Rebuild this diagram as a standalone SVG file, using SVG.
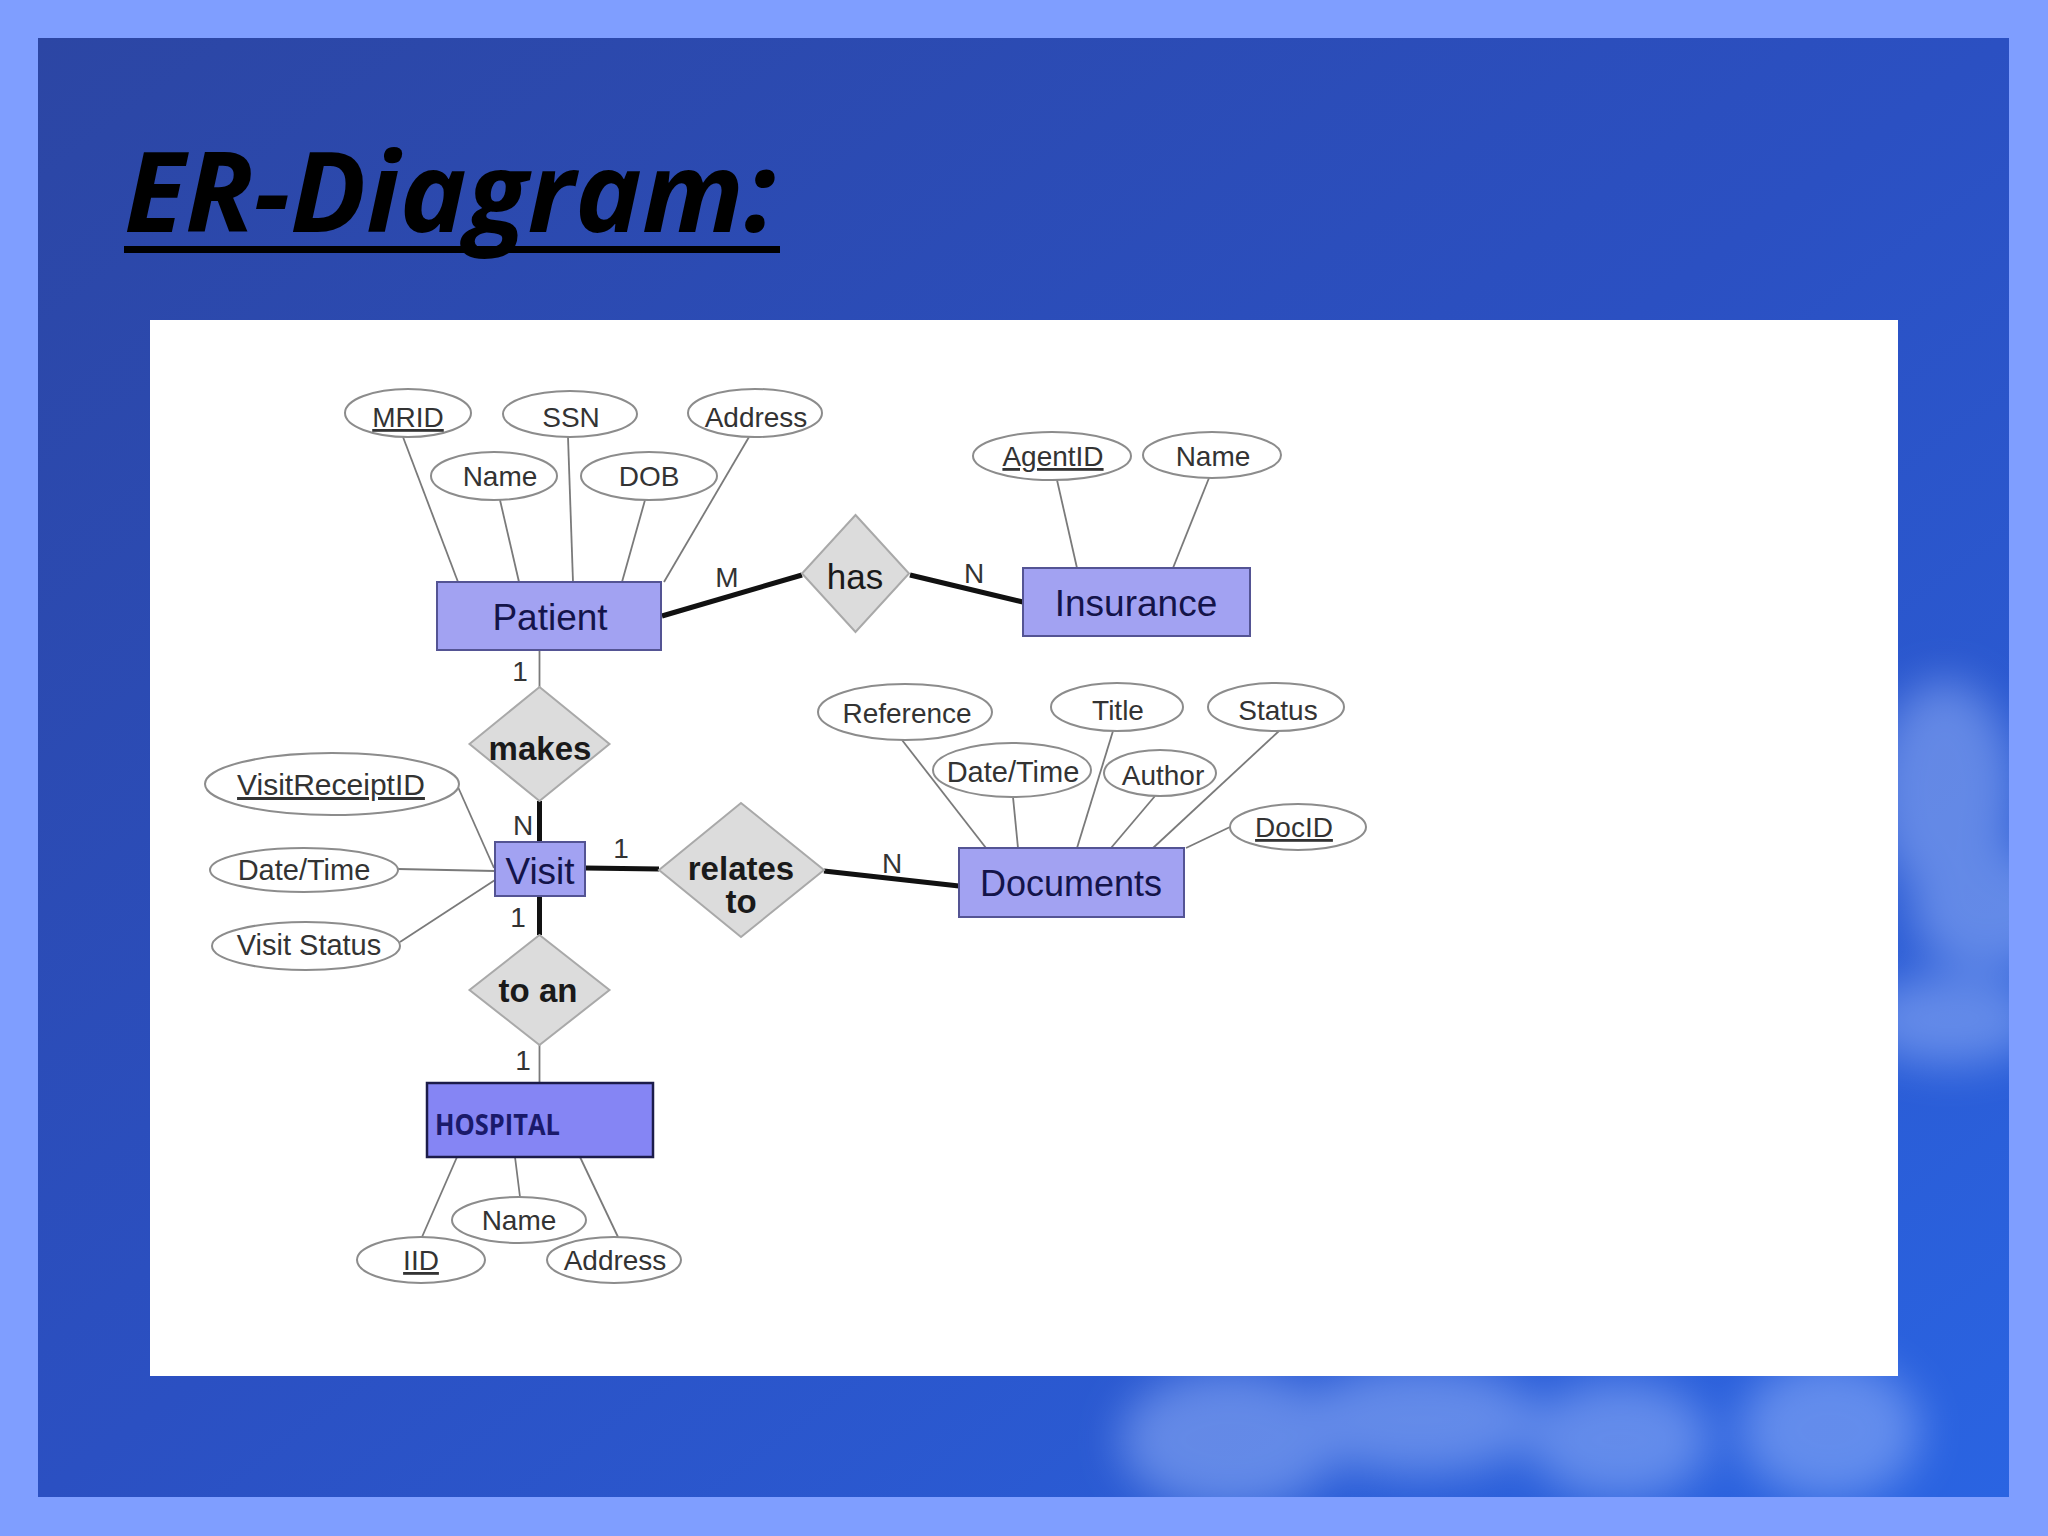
<svg xmlns="http://www.w3.org/2000/svg" width="2048" height="1536" viewBox="0 0 2048 1536">
<defs>
<linearGradient id="bg" x1="0" y1="0" x2="1" y2="1">
<stop offset="0" stop-color="#2c46a4"/>
<stop offset="0.5" stop-color="#2b50c2"/>
<stop offset="1" stop-color="#2a64e2"/>
</linearGradient>
<filter id="blur" x="-50%" y="-50%" width="200%" height="200%"><feGaussianBlur stdDeviation="22"/></filter>
<clipPath id="inner"><rect x="38" y="38" width="1971" height="1459"/></clipPath>
<style>
.ent{fill:#a2a2f2;stroke:#545494;stroke-width:2}
.rel{fill:#dcdcdc;stroke:#a9a9a9;stroke-width:2}
.att{fill:#ffffff;stroke:#8c8c8c;stroke-width:2}
.thin{stroke:#7a7a7a;stroke-width:1.8;fill:none}
.thick{stroke:#111111;stroke-width:5;fill:none}
.at{font-family:"Liberation Sans",Arial,sans-serif;font-size:28px;fill:#333333;text-anchor:middle}
.key{text-decoration:underline}
.et{font-family:"Liberation Sans",Arial,sans-serif;font-size:37px;fill:#14144a;text-anchor:middle}
.rt{font-family:"Liberation Sans",Arial,sans-serif;font-size:33px;font-weight:bold;fill:#1a1a1a;text-anchor:middle}
.rtn{font-family:"Liberation Sans",Arial,sans-serif;font-size:35px;font-weight:normal;fill:#1a1a1a;text-anchor:middle}
.card{font-family:"Liberation Sans",Arial,sans-serif;font-size:28px;fill:#333333;text-anchor:middle}
</style>
</defs>
<g id="background">
<rect x="0" y="0" width="2048" height="1536" fill="#7f9eff"/>
<rect x="38" y="38" width="1971" height="1459" fill="url(#bg)"/>
<g clip-path="url(#inner)">
<g filter="url(#blur)" fill="#a9c2ff" opacity="0.45">
<ellipse cx="1945" cy="790" rx="70" ry="110"/>
<ellipse cx="1990" cy="910" rx="80" ry="60"/>
<ellipse cx="1950" cy="1020" rx="90" ry="45"/>
<ellipse cx="1230" cy="1440" rx="110" ry="70"/>
<ellipse cx="1420" cy="1420" rx="120" ry="55"/>
<ellipse cx="1620" cy="1440" rx="90" ry="60"/>
<ellipse cx="1830" cy="1430" rx="90" ry="70"/>
</g>
</g>
<rect x="150" y="320" width="1748" height="1056" fill="#ffffff"/>
</g>
<g id="title">
<text x="124" y="232" font-family="'Open Sans','DejaVu Sans',sans-serif" font-size="112" font-weight="bold" font-style="italic" fill="#000000" textLength="652" lengthAdjust="spacingAndGlyphs">ER-Diagram:</text>
<rect x="124" y="246" width="656" height="7" fill="#000000"/>
</g>
<g id="connectors">
<line class="thin" x1="403" y1="437" x2="458" y2="582"/>
<line class="thin" x1="500" y1="500" x2="519" y2="582"/>
<line class="thin" x1="568" y1="437" x2="573" y2="582"/>
<line class="thin" x1="645" y1="500" x2="622" y2="582"/>
<line class="thin" x1="749" y1="437" x2="664" y2="582"/>
<line class="thin" x1="1057" y1="480" x2="1077" y2="568"/>
<line class="thin" x1="1209" y1="478" x2="1173" y2="568"/>
<line class="thin" x1="458" y1="787" x2="494" y2="868"/>
<line class="thin" x1="398" y1="869" x2="495" y2="871"/>
<line class="thin" x1="400" y1="942" x2="495" y2="880"/>
<line class="thin" x1="902" y1="740" x2="986" y2="848"/>
<line class="thin" x1="1013" y1="797" x2="1018" y2="848"/>
<line class="thin" x1="1113" y1="731" x2="1077" y2="848"/>
<line class="thin" x1="1155" y1="796" x2="1111" y2="848"/>
<line class="thin" x1="1279" y1="731" x2="1153" y2="848"/>
<line class="thin" x1="1230" y1="827" x2="1186" y2="848"/>
<line class="thin" x1="457" y1="1157" x2="422" y2="1237"/>
<line class="thin" x1="515" y1="1157" x2="520" y2="1197"/>
<line class="thin" x1="580" y1="1157" x2="618" y2="1237"/>
<line class="thin" x1="539.5" y1="650" x2="539.5" y2="687"/>
<line class="thin" x1="539.5" y1="1045" x2="539.5" y2="1083"/>
<line class="thick" x1="662" y1="616" x2="802" y2="575"/>
<line class="thick" x1="910" y1="575" x2="1023" y2="602"/>
<line class="thick" x1="539.5" y1="801" x2="539.5" y2="842"/>
<line class="thick" x1="539.5" y1="896" x2="539.5" y2="935"/>
<line class="thick" x1="585" y1="868" x2="659" y2="869"/>
<line class="thick" x1="824" y1="871" x2="959" y2="886"/>
<text class="card" x="727" y="587">M</text>
<text class="card" x="974" y="583">N</text>
<text class="card" x="520" y="681">1</text>
<text class="card" x="523" y="835">N</text>
<text class="card" x="621" y="858">1</text>
<text class="card" x="518" y="927">1</text>
<text class="card" x="892" y="873">N</text>
<text class="card" x="523" y="1070">1</text>
</g>
<g id="patient">
<rect class="ent" x="437" y="582" width="224" height="68"/>
<text class="et" x="550" y="630">Patient</text>
</g>
<g id="patient-mrid"><ellipse class="att" cx="408" cy="413" rx="63" ry="24"/><text class="at key" x="408" y="427">MRID</text></g>
<g id="patient-ssn"><ellipse class="att" cx="570" cy="414" rx="67" ry="23"/><text class="at" x="571" y="427">SSN</text></g>
<g id="patient-address"><ellipse class="att" cx="755" cy="413" rx="67" ry="24"/><text class="at" x="756" y="427">Address</text></g>
<g id="patient-name"><ellipse class="att" cx="494" cy="476" rx="63" ry="24"/><text class="at" x="500" y="486">Name</text></g>
<g id="patient-dob"><ellipse class="att" cx="649" cy="476" rx="68" ry="24"/><text class="at" x="649" y="486">DOB</text></g>
<g id="has">
<polygon class="rel" points="855.5,515 909,573.5 855.5,632 802,573.5"/>
<text class="rtn" x="855" y="589">has</text>
</g>
<g id="insurance">
<rect class="ent" x="1023" y="568" width="227" height="68"/>
<text class="et" x="1136" y="616">Insurance</text>
</g>
<g id="insurance-agentid"><ellipse class="att" cx="1052" cy="456" rx="79" ry="24"/><text class="at key" x="1053" y="466">AgentID</text></g>
<g id="insurance-name"><ellipse class="att" cx="1212" cy="455" rx="69" ry="23"/><text class="at" x="1213" y="466">Name</text></g>
<g id="makes">
<polygon class="rel" points="539.5,687 609.5,744 539.5,801 469.5,744"/>
<text class="rt" x="540" y="760">makes</text>
</g>
<g id="visit">
<rect class="ent" x="495" y="842" width="90" height="54"/>
<text class="et" x="540" y="884">Visit</text>
</g>
<g id="visit-receiptid"><ellipse class="att" cx="332" cy="784" rx="127" ry="31"/><text class="at key" x="331" y="795" style="font-size:30px">VisitReceiptID</text></g>
<g id="visit-datetime"><ellipse class="att" cx="304" cy="870" rx="94" ry="22"/><text class="at" x="304" y="880" style="font-size:29px">Date/Time</text></g>
<g id="visit-status"><ellipse class="att" cx="306" cy="946" rx="94" ry="24"/><text class="at" x="309" y="955" style="font-size:29px">Visit Status</text></g>
<g id="relates-to">
<polygon class="rel" points="741,803 824,870 741,937 659,870"/>
<text class="rt" x="741" y="880">relates</text>
<text class="rt" x="741" y="913">to</text>
</g>
<g id="documents">
<rect class="ent" x="959" y="848" width="225" height="69"/>
<text class="et" x="1071" y="896" style="font-size:36px">Documents</text>
</g>
<g id="doc-reference"><ellipse class="att" cx="905" cy="712" rx="87" ry="28"/><text class="at" x="907" y="723">Reference</text></g>
<g id="doc-title"><ellipse class="att" cx="1117" cy="707" rx="66" ry="24"/><text class="at" x="1118" y="720">Title</text></g>
<g id="doc-status"><ellipse class="att" cx="1276" cy="707" rx="68" ry="24"/><text class="at" x="1278" y="720">Status</text></g>
<g id="doc-datetime"><ellipse class="att" cx="1012" cy="770" rx="79" ry="27"/><text class="at" x="1013" y="782" style="font-size:29px">Date/Time</text></g>
<g id="doc-author"><ellipse class="att" cx="1160" cy="773" rx="56" ry="23"/><text class="at" x="1163" y="785">Author</text></g>
<g id="doc-docid"><ellipse class="att" cx="1298" cy="827" rx="68" ry="23"/><text class="at key" x="1294" y="837">DocID</text></g>
<g id="to-an">
<polygon class="rel" points="539.5,935 609.5,990 539.5,1045 469.5,990"/>
<text class="rt" x="538" y="1002">to an</text>
</g>
<g id="hospital">
<rect x="427" y="1083" width="226" height="74" fill="#8585f4" stroke="#1c1c4a" stroke-width="2.5"/>
<text x="435" y="1135" font-family="'Open Sans','Liberation Sans',sans-serif" font-size="28" font-weight="bold" fill="#1a1a6a" textLength="125" lengthAdjust="spacingAndGlyphs">HOSPITAL</text>
</g>
<g id="hospital-name"><ellipse class="att" cx="519" cy="1220" rx="67" ry="23"/><text class="at" x="519" y="1230">Name</text></g>
<g id="hospital-iid"><ellipse class="att" cx="421" cy="1260" rx="64" ry="23"/><text class="at key" x="421" y="1270">IID</text></g>
<g id="hospital-address"><ellipse class="att" cx="614" cy="1260" rx="67" ry="23"/><text class="at" x="615" y="1270">Address</text></g>
</svg>
